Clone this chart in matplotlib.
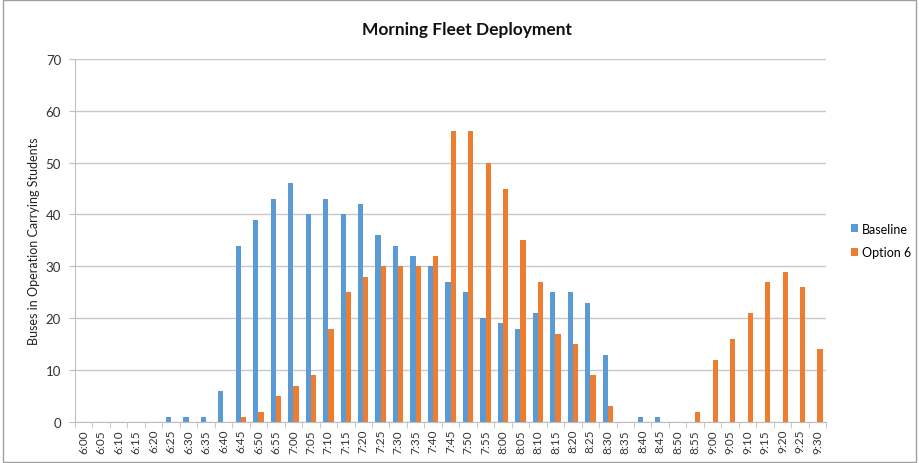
import matplotlib
matplotlib.use("Agg")
import matplotlib.pyplot as plt
import numpy as np
from matplotlib.patches import Rectangle

times = ["6:00","6:05","6:10","6:15","6:20","6:25","6:30","6:35","6:40","6:45",
         "6:50","6:55","7:00","7:05","7:10","7:15","7:20","7:25","7:30","7:35",
         "7:40","7:45","7:50","7:55","8:00","8:05","8:10","8:15","8:20","8:25",
         "8:30","8:35","8:40","8:45","8:50","8:55","9:00","9:05","9:10","9:15",
         "9:20","9:25","9:30"]
baseline = [0,0,0,0,0,1,1,1,6,34,
            39,43,46,40,43,40,42,36,34,32,
            30,27,25,20,19,18,21,25,25,23,
            13,0,1,1,0,0,0,0,0,0,
            0,0,0]
option6 = [0,0,0,0,0,0,0,0,0,1,
           2,5,7,9,18,25,28,30,30,30,
           32,56,56,50,45,35,27,17,15,9,
           3,0,0,0,0,2,12,16,21,27,
           29,26,14]

plt.rcParams['font.family'] = ['Lato', 'DejaVu Sans']

fig = plt.figure(figsize=(9.19, 4.64), dpi=100)
ax = fig.add_axes([0.0816, 0.0884, 0.8174, 0.7826])

x = np.arange(len(times))
w = 0.3
ax.bar(x - w/2, baseline, width=w, color="#5B9BD5", label="Baseline", zorder=3)
ax.bar(x + w/2, option6, width=w, color="#ED7D31", label="Option 6", zorder=3)

ax.set_xlim(-0.5, len(times) - 0.5)
ax.set_ylim(0, 70)
ax.set_yticks(range(0, 71, 10))
ax.yaxis.grid(True, color="#C8C8C8", linewidth=1, zorder=0)
ax.set_xticks(x)
ax.set_xticklabels(times, rotation=90, fontsize=8.5, color="#333333")
ax.set_xticks(np.arange(-0.5, len(times), 1), minor=True)
ax.tick_params(axis='x', which='major', length=0, pad=5)
ax.tick_params(axis='x', which='minor', length=4, color="#BFBFBF")
ax.tick_params(axis='y', labelsize=9.5, colors="#333333", length=4, color="#BFBFBF", pad=6)
for s in ["top", "right"]:
    ax.spines[s].set_visible(False)
ax.spines["left"].set_color("#BFBFBF")
ax.spines["bottom"].set_color("#BFBFBF")

ax.set_ylabel("Buses in Operation Carrying Students", fontsize=9, color="#222222", labelpad=4)
fig.text(0.508, 0.935, "Morning Fleet Deployment", ha="center", va="center",
         fontsize=12.5, fontweight="bold", color="#111111")

leg = ax.legend(loc="center left", bbox_to_anchor=(1.018, 0.5), frameon=False,
                fontsize=9, handlelength=0.6, handleheight=0.6, handletextpad=0.3,
                labelspacing=0.9)

fig.patches.append(Rectangle((0.003, 0.003), 0.994, 0.994, transform=fig.transFigure,
                             fill=False, edgecolor="#A0A0A0", linewidth=1))

fig.savefig("out.png", dpi=100)
